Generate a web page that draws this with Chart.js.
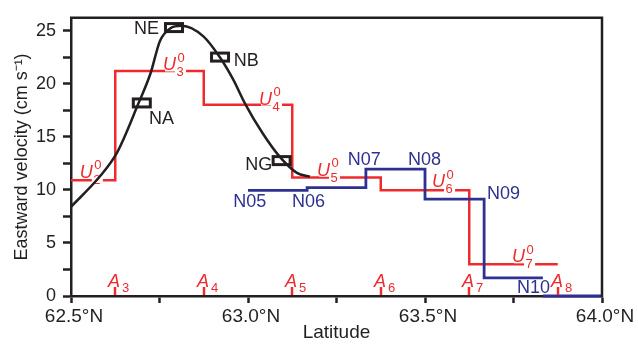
<!DOCTYPE html>
<html><head><meta charset="utf-8">
<script src="https://cdn.jsdelivr.net/npm/chart.js@4.4.1/dist/chart.umd.min.js"></script>
<style>html,body{margin:0;padding:0;background:#fff}canvas{display:block}</style>
</head><body>
<canvas id="c" width="638" height="344"></canvas>
<script>
// ---- data ----
const redEdges = [62.5, 62.625, 62.875, 63.125, 63.375, 63.625, 63.875];
const redValues = [10.9, 21.2, 18.0, 11.15, 9.95, 2.98];          // U2..U7
const redNames = ['2', '3', '4', '5', '6', '7'];
const blueEdges = [63.0, 63.167, 63.333, 63.5, 63.667, 63.833, 64.0];
const blueValues = [9.95, 10.2, 11.95, 9.13, 1.7, 0];
const blueNames = ['N05', 'N06', 'N07', 'N08', 'N09', 'N10'];
const curveLat = [62.5, 62.58, 62.63, 62.69, 62.725, 62.751, 62.78, 62.813, 62.874, 62.921, 62.958, 62.992, 63.04, 63.09, 63.138, 63.175];
const curveVel = [8.4, 11.2, 13.5, 18.1, 21.0, 24.0, 25.2, 25.45, 24.45, 22.46, 20.4, 18.1, 15.4, 13.1, 11.6, 11.24];
const boxNames = ['NE', 'NB', 'NA', 'NG'];
const boxLat = [62.791, 62.921, 62.70, 63.095];
const boxVel = [25.28, 22.5, 18.18, 12.75];
const aLat = [62.625, 62.875, 63.125, 63.375, 63.625, 63.875];
const aNames = ['3', '4', '5', '6', '7', '8'];
const xTickStep = 0.25;
const yTickStep = 2.5;

// ---- layout (label anchors in data units) ----
const boxLabelPos = [[62.678, 24.63], [62.960, 21.70], [62.720, 16.19], [62.992, 11.88]];
const blueLabelPos = [[62.958, 8.39], [63.124, 8.39], [63.282, 12.34], [63.452, 12.34], [63.675, 9.13], [63.760, 0.32]];
const uLabelPos = [[62.525, 11.15], [62.760, 21.24], [63.031, 18.03], [63.195, 11.33], [63.520, 10.23], [63.746, 3.17]];

const RED = '#ee2a2e', BLUE = '#2e3192', BLACK = '#231f20';
const FONT = '"Liberation Sans", Arial, sans-serif';

const redData = redEdges.map((x, i) => ({x, y: redValues[Math.min(i, redValues.length - 1)]}));
const blueMain = [];
for (let i = 0; i < blueValues.length - 1; i++) blueMain.push({x: blueEdges[i], y: blueValues[i]});
blueMain.push({x: blueEdges[blueValues.length - 1], y: blueValues[blueValues.length - 2]});
const blueTail = [{x: blueEdges[blueValues.length - 1], y: blueValues[blueValues.length - 1]}, {x: blueEdges[blueValues.length], y: blueValues[blueValues.length - 1]}];
const curveData = curveLat.map((x, i) => ({x, y: curveVel[i]}));

const RED_INDEX = 3;

const annot = {
  id: 'annot',
  afterDatasetDraw(chart, args) {
    if (args.index !== RED_INDEX) return;
    const {ctx, scales: {x, y}} = chart;
    ctx.save();
    uLabelPos.forEach((p, i) => {
      const px = x.getPixelForValue(p[0]), py = y.getPixelForValue(p[1]);
      ctx.font = 'italic 18px ' + FONT;
      const w = ctx.measureText('U').width;
      ctx.fillStyle = '#fff';
      ctx.fillRect(px + 2, py - 13, w - 1, 14);
      ctx.fillRect(px + 12, py - 18, 11, 26);
      ctx.fillStyle = RED;
      ctx.textBaseline = 'alphabetic';
      ctx.textAlign = 'left';
      ctx.fillText('U', px, py);
      ctx.font = '13px ' + FONT;
      ctx.fillText('0', px + 14.5, py - 8.5);
      ctx.fillText(redNames[i], px + 13.5, py + 6);
    });
    ctx.restore();
  },
  afterDatasetsDraw(chart) {
    const {ctx, scales: {x, y}, chartArea} = chart;
    ctx.save();
    // boxes
    ctx.strokeStyle = BLACK; ctx.lineWidth = 3;
    boxLat.forEach((lat, i) => {
      const px = x.getPixelForValue(lat), py = y.getPixelForValue(boxVel[i]);
      ctx.strokeRect(px - 8.5, py - 4, 17, 8);
    });
    ctx.textAlign = 'left'; ctx.textBaseline = 'alphabetic';
    ctx.font = '18px ' + FONT;
    ctx.fillStyle = BLACK;
    boxNames.forEach((n, i) => ctx.fillText(n, x.getPixelForValue(boxLabelPos[i][0]), y.getPixelForValue(boxLabelPos[i][1])));
    ctx.fillStyle = BLUE;
    blueNames.forEach((n, i) => ctx.fillText(n, x.getPixelForValue(blueLabelPos[i][0]), y.getPixelForValue(blueLabelPos[i][1])));
    // A ticks
    const bottom = chartArea.bottom;
    ctx.strokeStyle = RED; ctx.lineWidth = 2.5; ctx.fillStyle = RED;
    aLat.forEach((lat, i) => {
      const px = Math.round(x.getPixelForValue(lat));
      ctx.beginPath(); ctx.moveTo(px, bottom - 9); ctx.lineTo(px, bottom - 1); ctx.stroke();
      ctx.font = 'italic 18px ' + FONT;
      ctx.fillText('A', px - 7, bottom - 9);
      ctx.font = '13px ' + FONT;
      ctx.fillText(aNames[i], px + 7, bottom - 4);
    });
    ctx.restore();
  },
  afterDraw(chart) {
    const {ctx, chartArea: a} = chart;
    ctx.save();
    ctx.strokeStyle = BLACK; ctx.lineWidth = 2.5;
    ctx.beginPath();
    ctx.moveTo(a.left - 1, a.top); ctx.lineTo(a.right, a.top); ctx.lineTo(a.right, a.bottom + 1);
    ctx.stroke();
    ctx.restore();
  }
};

new Chart(document.getElementById('c'), {
  type: 'line',
  data: {
    datasets: [
      {data: curveData, borderColor: BLACK, borderWidth: 2.5, pointRadius: 0, cubicInterpolationMode: 'monotone', fill: false, clip: false, order: 0},
      {data: blueMain, borderColor: BLUE, borderWidth: 2.8, pointRadius: 0, stepped: 'before', fill: false, clip: false, order: 1},
      {data: blueTail, borderColor: BLUE, borderWidth: 3, pointRadius: 0, fill: false, clip: false, order: 1},
      {data: redData, borderColor: RED, borderWidth: 2.5, pointRadius: 0, stepped: 'before', fill: false, clip: false, order: 2}
    ]
  },
  options: {
    responsive: false, animation: false, devicePixelRatio: 1,
    layout: {padding: {top: 10, right: 36, left: 0, bottom: 0}},
    plugins: {legend: {display: false}, tooltip: {enabled: false}},
    scales: {
      x: {
        type: 'linear', min: 62.5, max: 64.0,
        afterFit: s => { s.height = 48; },
        border: {display: true, width: 2.5, color: BLACK},
        grid: {drawOnChartArea: false, drawTicks: true, tickLength: 7, tickWidth: 2.5, tickColor: BLACK},
        ticks: {
          stepSize: xTickStep, autoSkip: false, maxRotation: 0, padding: 2, labelOffset: 3,
          color: BLACK, font: {family: FONT, size: 19},
          callback: v => Math.abs(v * 2 - Math.round(v * 2)) < 1e-6 ? v.toFixed(1) + '°N' : ''
        },
        title: {display: true, text: 'Latitude', color: BLACK, font: {family: FONT, size: 19, lineHeight: '22px'}, padding: {top: 0, bottom: 0}}
      },
      y: {
        type: 'linear', min: 0, max: 26.2,
        afterFit: s => { s.width = 71; },
        border: {display: true, width: 2.5, color: BLACK},
        grid: {drawOnChartArea: false, drawTicks: true, tickLength: 8, tickWidth: 2.5, tickColor: BLACK},
        ticks: {
          stepSize: yTickStep, includeBounds: false, autoSkip: false, padding: 7,
          color: BLACK, font: {family: FONT, size: 18},
          callback: v => Math.abs(v / 5 - Math.round(v / 5)) < 1e-6 ? String(Math.round(v)) : ''
        },
        title: {display: true, text: 'Eastward velocity (cm s⁻¹)', color: BLACK, font: {family: FONT, size: 18, lineHeight: '22px'}, padding: {top: 11, bottom: 0}}
      }
    }
  },
  plugins: [annot]
});
</script>
</body></html>
